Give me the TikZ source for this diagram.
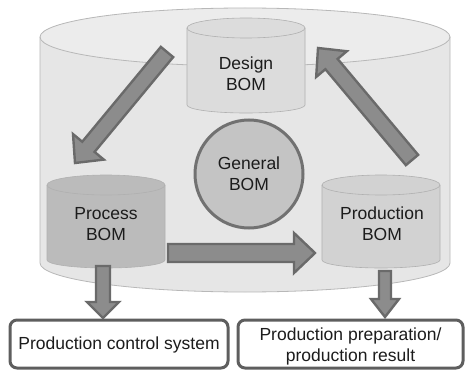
\documentclass[tikz,border=0pt]{standalone}
\usepackage{fontspec}
\setmainfont{Liberation Sans}
\usetikzlibrary{calc}
\definecolor{bigfill}{HTML}{E6E6E6}
\definecolor{bigtop}{HTML}{ECECEC}
\definecolor{bigline}{HTML}{B8B8B8}
\definecolor{desfill}{HTML}{DCDCDC}
\definecolor{procfill}{HTML}{BBBBBB}
\definecolor{prodfill}{HTML}{D2D2D2}
\definecolor{cylline}{HTML}{B0B0B0}
\definecolor{arrfill}{HTML}{8C8C8C}
\definecolor{arrline}{HTML}{6A6A6A}
\definecolor{genfill}{HTML}{C4C4C4}
\definecolor{genline}{HTML}{717171}
\definecolor{boxline}{HTML}{5E5E5E}
\definecolor{txt}{HTML}{1C1C1C}
\tikzset{
  lbl/.style={font=\fontsize{17.5}{21}\selectfont, text=txt, align=center, inner sep=0pt},
  blockarrow/.style={fill=arrfill, draw=arrline, line width=2.4pt, line join=miter},
  outbox/.style={draw=boxline, line width=3pt, rounded corners=7pt, fill=white},
}
% #1 start, #2 tip, #3 shaft half width, #4 head half width, #5 head length
\newcommand\barrow[5]{%
  \coordinate (ba-h) at ($(#2)!#5!(#1)$);
  \draw[blockarrow] ($(#1)!#3!90:(#2)$) -- ($(ba-h)!#3!-90:(#1)$) -- ($(ba-h)!#4!-90:(#1)$) -- (#2)
     -- ($(ba-h)!#4!90:(#1)$) -- ($(ba-h)!#3!90:(#1)$) -- ($(#1)!#3!-90:(#2)$) -- cycle;}
% small cylinder: #1 center x, #2 top y, #3 bottom y, #4 half width, #5 fill
\newcommand\smallcyl[5]{%
  \fill[#5] (#1-#4,#2) -- (#1-#4,#3) arc[start angle=180,end angle=360,x radius=#4,y radius=8] -- (#1+#4,#2) arc[start angle=0,end angle=180,x radius=#4,y radius=10] -- cycle;
  \draw[cylline, line width=0.6pt] (#1-#4,#2) -- (#1-#4,#3) arc[start angle=180,end angle=360,x radius=#4,y radius=8] -- (#1+#4,#2);
  \draw[cylline, line width=0.6pt] (#1,#2) ellipse[x radius=#4, y radius=10];
}
\begin{document}
\begin{tikzpicture}[x=1pt,y=1pt]
\useasboundingbox (0,0) rectangle (465,370);
\fill[white] (0,0) rectangle (465,370);
% big cylinder
\fill[bigfill] (40,333) -- (40,107) arc[start angle=180,end angle=360,x radius=205,y radius=29] -- (450,333) arc[start angle=0,end angle=180,x radius=205,y radius=29] -- cycle;
\fill[bigtop] (245,333) ellipse[x radius=205, y radius=29];
\draw[bigline, line width=0.8pt] (40,333) -- (40,107) arc[start angle=180,end angle=360,x radius=205,y radius=29] -- (450,333);
\draw[bigline, line width=0.8pt] (245,333) ellipse[x radius=205, y radius=29];
% small cylinders
\smallcyl{246}{342}{265}{59}{desfill}
\smallcyl{106}{185}{110}{59}{procfill}
\smallcyl{381}{185}{110}{59}{prodfill}
% general BOM circle
\draw[fill=genfill, draw=genline, line width=3pt] (249,196) circle[radius=54];
% text nodes
\node[lbl] (design) at (246,296) {Design\\BOM};
\node[lbl] (general) at (249,196) {General\\BOM};
\node[lbl] (process) at (106,146) {Process\\BOM};
\node[lbl] (production) at (382,146) {Production\\BOM};
% output boxes
\draw[outbox] (10,2) rectangle (228,50);
\draw[outbox] (238,2) rectangle (463,50);
\node[lbl] (pcs) at (119,25) {Production control system};
\node[lbl] (ppr) at (350.5,24) {Production preparation/\\production result};
% arrow anchor coordinates
\coordinate (a1s) at (167,318);
\coordinate (a1e) at (75,207);
\coordinate (a2s) at (412,210);
\coordinate (a2e) at (318,322);
\coordinate (a3s) at (168,117);
\coordinate (a3e) at (315,117);
\coordinate (a4s) at (103,104);
\coordinate (a4e) at (103,52);
\coordinate (a5s) at (385,99);
\coordinate (a5e) at (385,53);
\barrow{a1s}{a1e}{8pt}{20pt}{21pt}
\barrow{a2s}{a2e}{8pt}{20pt}{21pt}
\barrow{a3s}{a3e}{9pt}{20pt}{21pt}
\barrow{a4s}{a4e}{7pt}{16pt}{16pt}
\barrow{a5s}{a5e}{6pt}{14pt}{18pt}
\end{tikzpicture}
\end{document}
